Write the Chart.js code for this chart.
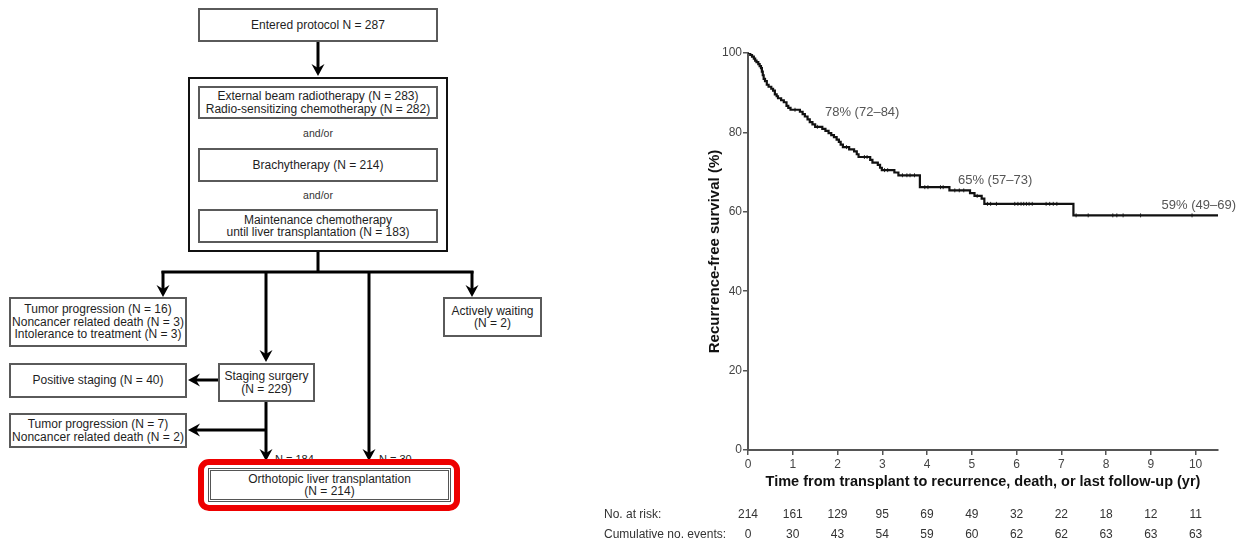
<!DOCTYPE html>
<html><head><meta charset="utf-8">
<script src="https://cdn.jsdelivr.net/npm/chart.js@4.4.1/dist/chart.umd.min.js"></script>
<style>
html,body{margin:0;padding:0;background:#fff;}
body{width:1247px;height:542px;position:relative;overflow:hidden;font-family:"Liberation Sans",Arial,Helvetica,sans-serif;color:#1e1e1e;}
.box{position:absolute;box-sizing:border-box;border:2px solid #5a5a5a;display:flex;flex-direction:column;align-items:center;justify-content:center;text-align:center;font-size:12px;line-height:12.4px;background:#fff;white-space:nowrap;}
.outer{position:absolute;box-sizing:border-box;border:2px solid #111;}
.andor{position:absolute;width:240px;text-align:center;font-size:10.5px;color:#333;}
.nlab{position:absolute;font-size:11px;color:#222;}
#flow{position:absolute;left:0;top:0;}
.red{position:absolute;box-sizing:border-box;border:6px solid #ee0000;border-radius:11px;background:#fff;}
#kmwrap{position:absolute;left:590px;top:0;width:657px;height:542px;}
</style>
</head><body>

<div class="box" style="left:198px;top:8px;width:240px;height:34px;">Entered protocol N = 287</div>
<div class="outer" style="left:188px;top:77px;width:260px;height:175px;"></div>
<div class="box" style="left:198px;top:86px;width:240px;height:33px;"><div>External beam radiotherapy (N = 283)</div><div>Radio-sensitizing chemotherapy (N = 282)</div></div>
<div class="andor" style="left:198px;top:127px;">and/or</div>
<div class="box" style="left:198px;top:148px;width:240px;height:34px;">Brachytherapy (N = 214)</div>
<div class="andor" style="left:198px;top:189px;">and/or</div>
<div class="box" style="left:198px;top:209px;width:240px;height:34px;"><div>Maintenance chemotherapy</div><div>until liver transplantation (N = 183)</div></div>

<div class="box" style="left:9px;top:297px;width:178px;height:50px;"><div>Tumor progression (N = 16)</div><div>Noncancer related death (N = 3)</div><div>Intolerance to treatment (N = 3)</div></div>
<div class="box" style="left:443px;top:297px;width:99px;height:40px;"><div>Actively waiting</div><div>(N = 2)</div></div>
<div class="box" style="left:9px;top:363px;width:178px;height:35px;">Positive staging (N = 40)</div>
<div class="box" style="left:218px;top:363px;width:97px;height:39px;"><div>Staging surgery</div><div>(N = 229)</div></div>
<div class="box" style="left:9px;top:413px;width:178px;height:35px;"><div>Tumor progression (N = 7)</div><div>Noncancer related death (N = 2)</div></div>

<div class="nlab" style="left:275px;top:453px;">N = 184</div>
<div class="nlab" style="left:379px;top:453px;">N = 30</div>

<svg id="flow" width="590" height="542"></svg>

<div class="red" style="left:198px;top:459px;width:262px;height:52px;"></div>
<div class="box" style="left:208px;top:468px;width:243px;height:34px;border:3px double #555;"><div>Orthotopic liver transplantation</div><div>(N = 214)</div></div>

<div id="kmwrap"><canvas id="km"></canvas></div>

<script>
// ---------- Kaplan-Meier data ----------
const stepTimes = [0,0.05,0.09,0.13,0.16,0.19,0.23,0.26,0.29,0.31,0.33,0.35,0.38,0.42,0.46,0.52,0.56,0.60,0.64,0.67,0.74,0.80,0.86,0.90,0.95,1.16,1.22,1.27,1.33,1.38,1.44,1.50,1.66,1.73,1.80,1.86,1.92,1.98,2.03,2.07,2.12,2.26,2.37,2.43,2.47,2.73,2.78,2.90,2.95,2.99,3.27,3.36,3.84,4.50,4.96,5.06,5.22,5.28,7.27,10.5];
const stepSurv  = [100,99.5,99.1,98.6,98.1,97.7,97.2,96.7,96.2,95.3,94.4,93.5,92.9,92.0,91.5,91.0,90.5,89.6,89.1,88.6,88.1,87.6,86.7,86.2,85.7,85.2,84.6,84.0,83.3,82.6,82.0,81.4,80.9,80.4,79.8,79.3,78.8,78.2,77.6,76.9,76.3,75.7,75.2,74.5,73.8,73.1,72.4,71.8,71.1,70.5,69.9,69.2,66.2,65.4,64.7,64.0,63.3,62.0,59.1,59.1];
const censorTimes = [1.05,1.55,2.20,2.60,2.66,3.05,3.12,3.45,3.55,3.62,3.72,3.95,4.02,4.30,4.36,4.62,4.72,4.82,5.12,5.35,5.42,5.55,5.96,6.03,6.10,6.16,6.22,6.28,6.35,6.66,6.74,6.82,6.90,7.33,7.60,8.15,8.24,8.38,8.77,9.92];
const xTickValues = [0,1,2,3,4,5,6,7,8,9,10];
const yTickValues = [0,20,40,60,80,100];
const atRisk    = [214,161,129,95,69,49,32,22,18,12,11];
const cumEvents = [0,30,43,54,59,60,62,62,63,63,63];
const annotTexts = ['78% (72\u201384)','65% (57\u201373)','59% (49\u201369)'];
const annotX = [1.72,4.69,9.24];
const annotY = [85.1,68.0,61.5];

// ---------- flowchart connectors ----------
const svg = document.getElementById('flow');
const NS = 'http://www.w3.org/2000/svg';
function seg(x1,y1,x2,y2){const l=document.createElementNS(NS,'line');l.setAttribute('x1',x1);l.setAttribute('y1',y1);l.setAttribute('x2',x2);l.setAttribute('y2',y2);l.setAttribute('stroke','#000');l.setAttribute('stroke-width','3');svg.appendChild(l);}
function arrow(x1,y1,x2,y2){
  const dx=x2-x1, dy=y2-y1, L=Math.hypot(dx,dy), ux=dx/L, uy=dy/L, px=-uy, py=ux;
  const len=12, w=6.5, notch=4;
  seg(x1,y1,x2-ux*notch,y2-uy*notch);
  const p=document.createElementNS(NS,'polygon');
  const pts=[[x2,y2],[x2-ux*len+px*w,y2-uy*len+py*w],[x2-ux*(len-notch),y2-uy*(len-notch)],[x2-ux*len-px*w,y2-uy*len-py*w]];
  p.setAttribute('points',pts.map(a=>a.join(',')).join(' '));p.setAttribute('fill','#000');svg.appendChild(p);
}
arrow(318,42,318,76);
seg(318,252,318,272);
seg(161.5,272,473.5,272);
arrow(163,271,163,297);
arrow(472,271,472,297);
arrow(266,271,266,362);
arrow(369,271,369,461);
arrow(218,380,188,380);
arrow(266,402,266,461);
arrow(266,430,188,430);

// ---------- KM chart ----------
const kmData = stepTimes.map((t,i)=>({x:t,y:stepSurv[i]}));
function survAt(t){let s=stepSurv[0];for(let i=0;i<stepTimes.length;i++){if(stepTimes[i]<=t)s=stepSurv[i];}return s;}
const censorData = censorTimes.map(t=>({x:t,y:survAt(t)}));

const tickColor='#444';
const FF='"Liberation Sans", Arial, sans-serif';
const extras = {
  id:'extras',
  afterDraw(chart){
    const ctx=chart.ctx, xs=chart.scales.x, ys=chart.scales.y;
    ctx.save();
    ctx.fillStyle='#555';
    ctx.font='13px '+FF;
    ctx.textAlign='left';ctx.textBaseline='middle';
    annotTexts.forEach((t,i)=>ctx.fillText(t,xs.getPixelForValue(annotX[i]),ys.getPixelForValue(annotY[i])));
    ctx.fillStyle='#333';
    ctx.font='12px '+FF;
    ctx.fillText('No. at risk:',14,515);
    ctx.fillText('Cumulative no. events:',14,535);
    ctx.textAlign='center';
    xTickValues.forEach((v,i)=>{
      const x=xs.getPixelForValue(v);
      ctx.fillText(String(atRisk[i]),x,515);
      ctx.fillText(String(cumEvents[i]),x,535);
    });
    ctx.restore();
  }
};

new Chart(document.getElementById('km'),{
  type:'line',
  data:{datasets:[
    {data:kmData,stepped:true,borderColor:'#111',borderWidth:2.2,pointRadius:0,fill:false},
    {data:censorData,showLine:false,pointStyle:'line',rotation:90,pointRadius:2,borderColor:'#333',borderWidth:1,pointBackgroundColor:'#333'}
  ]},
  options:{
    responsive:true,maintainAspectRatio:false,animation:false,
    layout:{padding:{left:112,right:29,top:53,bottom:48}},
    plugins:{legend:{display:false},tooltip:{enabled:false}},
    scales:{
      x:{type:'linear',min:0,max:10.5,
        afterBuildTicks(ax){ax.ticks=xTickValues.map(v=>({value:v}));},
        afterFit(ax){ax.height=44;},
        grid:{drawOnChartArea:false,drawTicks:true,tickLength:5,color:'#555',lineWidth:1.5},
        border:{display:true,color:'#555',width:2},
        ticks:{color:tickColor,font:{size:12,family:FF},padding:2,maxRotation:0,autoSkip:false},
        title:{display:true,text:'Time from transplant to recurrence, death, or last follow-up (yr)',color:'#111',padding:{top:4,bottom:3},font:{size:14.5,weight:'bold',family:FF}}
      },
      y:{min:0,max:100,
        afterBuildTicks(ax){ax.ticks=yTickValues.map(v=>({value:v}));},
        afterFit(ax){ax.width=46;},
        grid:{drawOnChartArea:false,drawTicks:true,tickLength:5,color:'#555',lineWidth:1.5},
        border:{display:true,color:'#555',width:2},
        ticks:{color:tickColor,font:{size:12,family:FF},padding:1},
        title:{display:true,text:'Recurrence-free survival (%)',color:'#111',font:{size:15,weight:'bold',family:FF}}
      }
    }
  },
  plugins:[extras]
});
</script>
</body></html>
